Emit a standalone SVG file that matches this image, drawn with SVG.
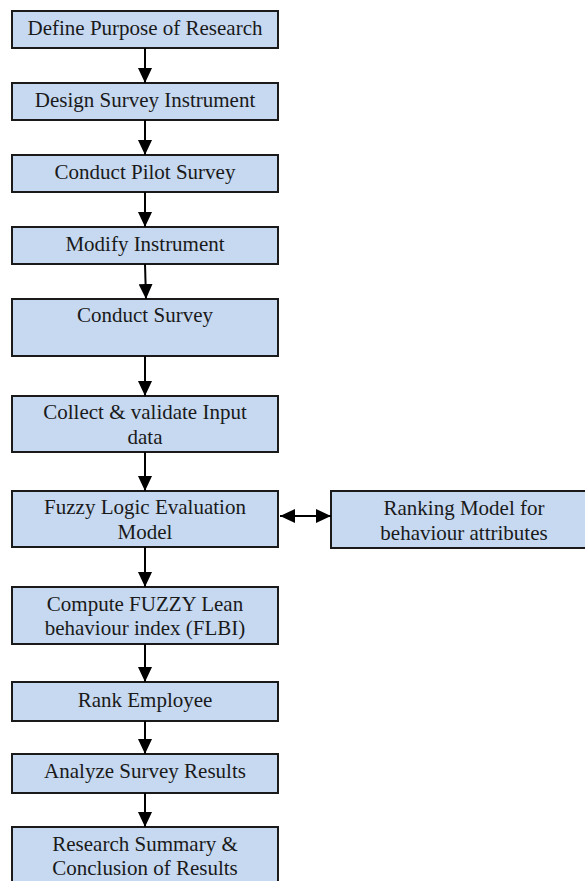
<svg xmlns="http://www.w3.org/2000/svg" width="585" height="881" viewBox="0 0 585 881">
  <style>
    .box { fill: #c6d9f1; stroke: #1a1a1a; stroke-width: 2; }
    .lbl { font-family: "Liberation Serif", "Times New Roman", serif; font-size: 21px; fill: #1a1a1a; text-anchor: middle; }
    .edge { stroke: #000; stroke-width: 2; fill: none; }
  </style>
  <defs>
    <marker id="head" viewBox="0 0 15 14" refX="15" refY="7" markerWidth="15" markerHeight="14" markerUnits="userSpaceOnUse" orient="auto-start-reverse">
      <path d="M0,0 L15,7 L0,14 Z" fill="#000"/>
    </marker>
  </defs>
  <rect width="585" height="881" fill="#fff"/>

  <g id="n1"><rect class="box" x="12" y="11" width="266" height="37"/><text class="lbl" x="145" y="35">Define Purpose of Research</text></g>
  <g id="n2"><rect class="box" x="12" y="83" width="266" height="37"/><text class="lbl" x="145" y="107">Design Survey Instrument</text></g>
  <g id="n3"><rect class="box" x="12" y="155" width="266" height="37"/><text class="lbl" x="145" y="179">Conduct Pilot Survey</text></g>
  <g id="n4"><rect class="box" x="12" y="227" width="266" height="37"/><text class="lbl" x="145" y="251">Modify Instrument</text></g>
  <g id="n5"><rect class="box" x="12" y="299" width="266" height="57"/><text class="lbl" x="145" y="322">Conduct Survey</text></g>
  <g id="n6"><rect class="box" x="12" y="396" width="266" height="56"/><text class="lbl" x="145" y="419">Collect &amp; validate Input</text><text class="lbl" x="145" y="444">data</text></g>
  <g id="n7"><rect class="box" x="12" y="491" width="266" height="56"/><text class="lbl" x="145" y="514">Fuzzy Logic Evaluation</text><text class="lbl" x="145" y="539">Model</text></g>
  <g id="n8"><rect class="box" x="331" y="491" width="266" height="57"/><text class="lbl" x="464" y="515">Ranking Model for</text><text class="lbl" x="464" y="540">behaviour attributes</text></g>
  <g id="n9"><rect class="box" x="12" y="587" width="266" height="57"/><text class="lbl" x="145" y="611">Compute FUZZY Lean</text><text class="lbl" x="145" y="635">behaviour index (FLBI)</text></g>
  <g id="n10"><rect class="box" x="12" y="682" width="266" height="39"/><text class="lbl" x="145" y="707">Rank Employee</text></g>
  <g id="n11"><rect class="box" x="12" y="754" width="266" height="39"/><text class="lbl" x="145" y="778">Analyze Survey Results</text></g>
  <g id="n12"><rect class="box" x="12" y="827" width="266" height="60"/><text class="lbl" x="145" y="851">Research Summary &amp;</text><text class="lbl" x="145" y="875">Conclusion of Results</text></g>

  <g id="edges">
    <line class="edge" x1="145" y1="48" x2="145" y2="83" marker-end="url(#head)"/>
    <line class="edge" x1="145" y1="120" x2="145" y2="155" marker-end="url(#head)"/>
    <line class="edge" x1="145" y1="192" x2="145" y2="227" marker-end="url(#head)"/>
    <line class="edge" x1="145" y1="264" x2="146" y2="299" marker-end="url(#head)"/>
    <line class="edge" x1="145" y1="356" x2="145" y2="396" marker-end="url(#head)"/>
    <line class="edge" x1="145" y1="452" x2="145" y2="491" marker-end="url(#head)"/>
    <line class="edge" x1="280" y1="516" x2="331" y2="516" marker-start="url(#head)" marker-end="url(#head)"/>
    <line class="edge" x1="145" y1="547" x2="145" y2="587" marker-end="url(#head)"/>
    <line class="edge" x1="145" y1="644" x2="145" y2="682" marker-end="url(#head)"/>
    <line class="edge" x1="145" y1="721" x2="145" y2="754" marker-end="url(#head)"/>
    <line class="edge" x1="145" y1="793" x2="145" y2="827" marker-end="url(#head)"/>
  </g>
</svg>
